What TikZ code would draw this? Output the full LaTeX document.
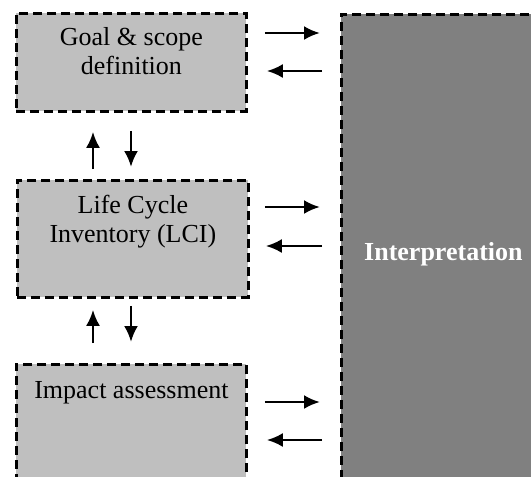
\documentclass[tikz,border=0pt]{standalone}
\usepackage{fontspec}
\setmainfont{Liberation Serif}
\usetikzlibrary{arrows.meta,calc}
\definecolor{lightbox}{gray}{0.75}
\definecolor{darkbox}{gray}{0.5}
\tikzset{
  stage/.style={draw, line width=2.8pt, dash pattern=on 9pt off 5pt, fill=lightbox, anchor=north west, inner sep=0pt},
  stagetxt/.style={align=center, inner sep=0pt, anchor=north},
  flow/.style={line width=2.6pt, -{Latex[length=16pt,width=14pt]}}
}
\begin{document}
\begin{tikzpicture}[x=1pt,y=-1pt,font=\fontsize{26}{29}\selectfont]
\useasboundingbox (0,0) rectangle (531,477);
\clip (0,0) rectangle (531,477);
%boxes
\node[stage, minimum width=230pt, minimum height=98pt] (goal) at (15,12) {};
\node[stage, minimum width=231pt, minimum height=117pt] (lci) at (16,179) {};
\node[stage, minimum width=230pt, minimum height=130pt] (impact) at (15,363) {};
\node[stage, fill=darkbox, minimum width=204pt, minimum height=480pt] (interp) at (340,13) {};
%tekst
\node[stagetxt, yshift=-15pt] (goaltxt) at (goal.north) {Goal \& scope\\definition};
\node[stagetxt, yshift=-16pt] (lcitxt) at (lci.north) {Life Cycle\\Inventory (LCI)};
\node[stagetxt, yshift=-18pt] (impacttxt) at (impact.north) {Impact assessment};
\node[white, inner sep=0pt] (interptxt) at (interp.center) {\bfseries Interpretation};
%pile til/fra interpretation
\draw[flow, shorten <=17pt, shorten >=20pt] ($(goal.north east)+(0,21)$) -- ($(goal.north east -| interp.west)+(0,21)$);
\draw[flow, shorten <=18pt, shorten >=19pt] ($(goal.north east -| interp.west)+(0,59)$) -- ($(goal.north east)+(0,59)$);
\draw[flow, shorten <=15pt, shorten >=20pt] ($(lci.north east)+(0,28)$) -- ($(lci.north east -| interp.west)+(0,28)$);
\draw[flow, shorten <=18pt, shorten >=16pt] ($(lci.north east -| interp.west)+(0,67)$) -- ($(lci.north east)+(0,67)$);
\draw[flow, shorten <=17pt, shorten >=20pt] ($(impact.north east)+(0,39)$) -- ($(impact.north east -| interp.west)+(0,39)$);
\draw[flow, shorten <=18pt, shorten >=19pt] ($(impact.north east -| interp.west)+(0,77)$) -- ($(impact.north east)+(0,77)$);
%pile mellem faser
\draw[flow, shorten <=10pt, shorten >=19pt] ($(lci.north west)+(77,0)$) -- ($(lci.north west |- goal.south)+(77,0)$);
\draw[flow, shorten <=18pt, shorten >=12pt] ($(lci.north west |- goal.south)+(115,0)$) -- ($(lci.north west)+(115,0)$);
\draw[flow, shorten <=20pt, shorten >=11pt] ($(impact.north west)+(78,0)$) -- ($(impact.north west |- lci.south)+(78,0)$);
\draw[flow, shorten <=7pt, shorten >=21pt] ($(impact.north west |- lci.south)+(116,0)$) -- ($(impact.north west)+(116,0)$);
\end{tikzpicture}
\end{document}
